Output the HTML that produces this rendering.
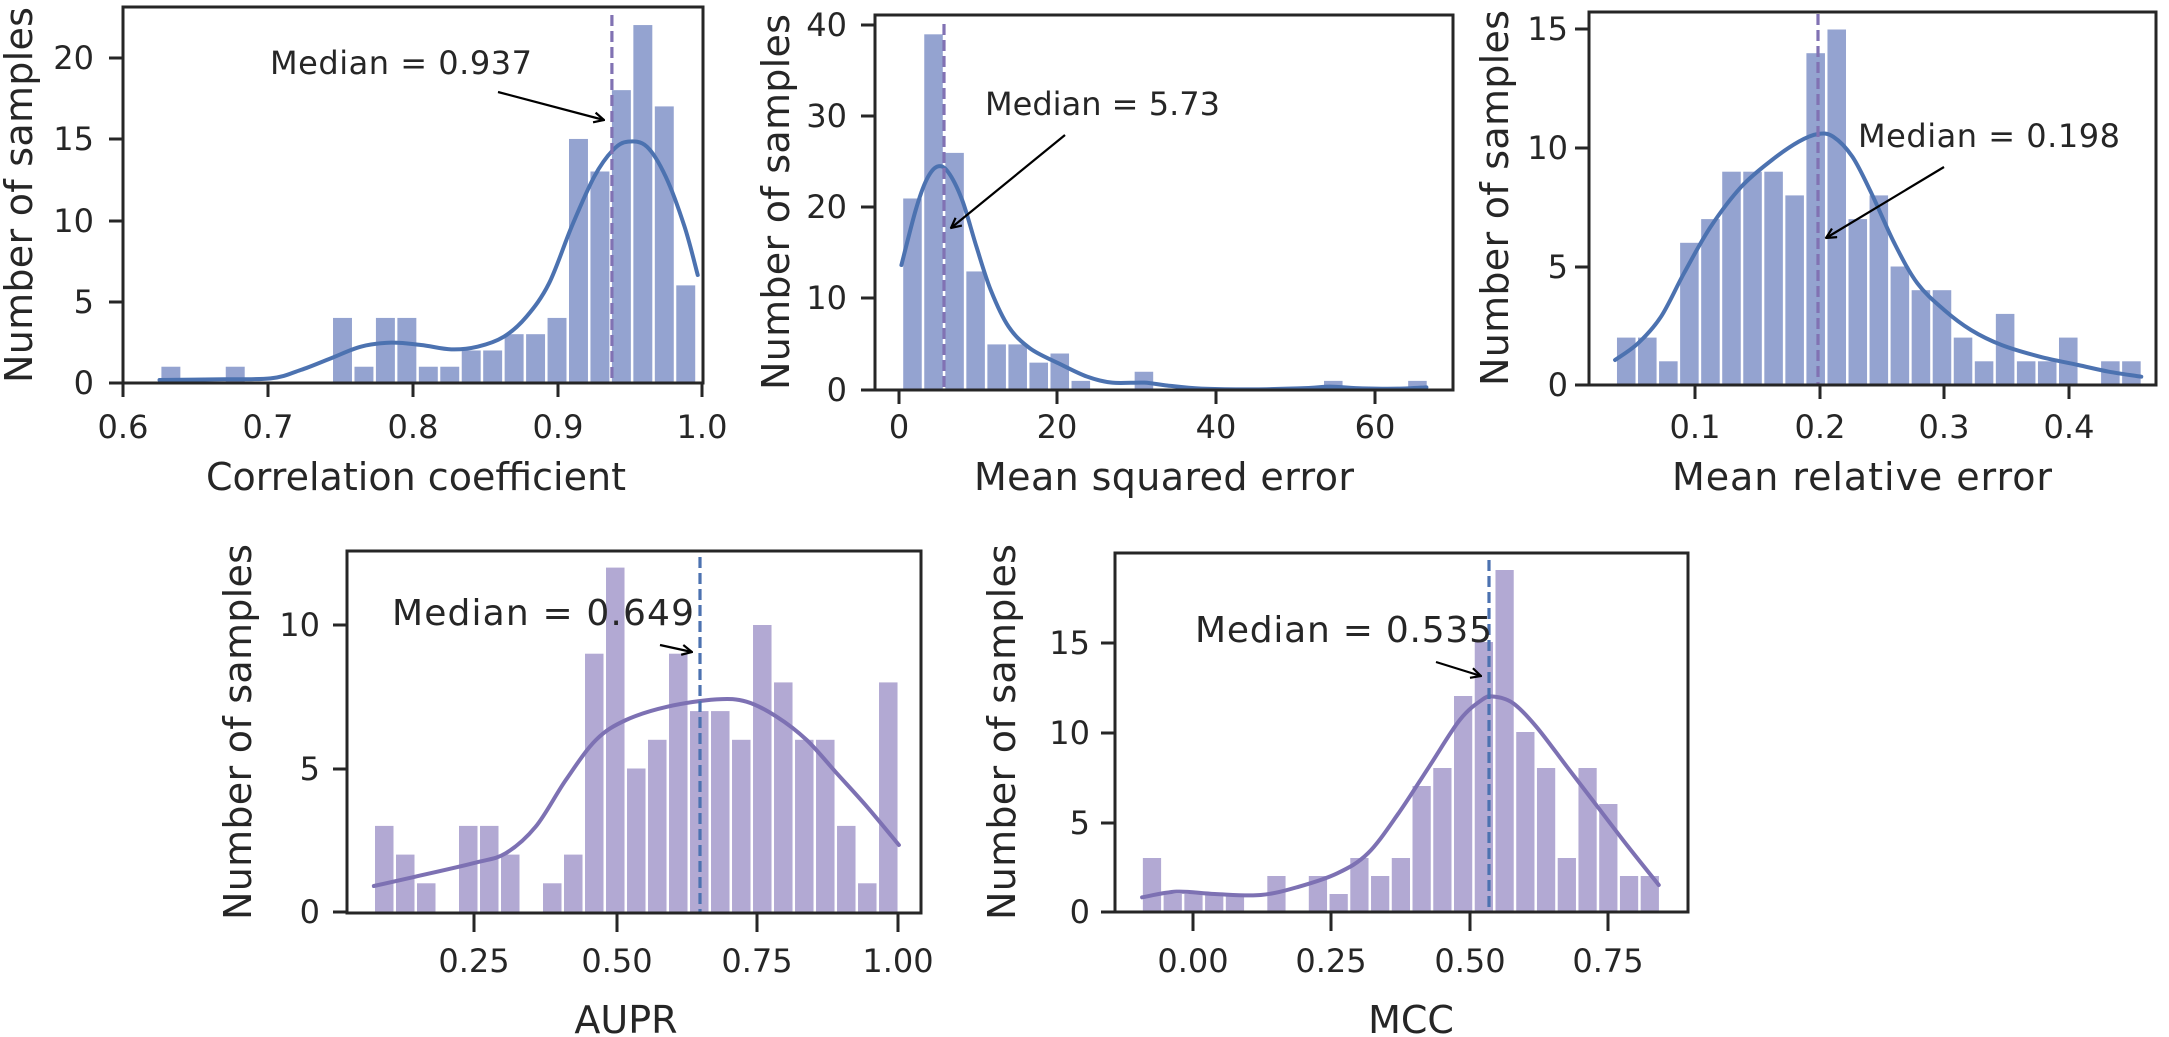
<!DOCTYPE html>
<html><head><meta charset="utf-8"><style>
html,body{margin:0;padding:0;background:#fff;}
svg{display:block;}
text{font-family:"DejaVu Sans","Liberation Sans",sans-serif;fill:#262626;}
.t{font-size:32px;}
.l{font-size:38px;}
.m{font-size:32px;}
</style></head><body>
<svg id="s" xmlns="http://www.w3.org/2000/svg" width="2169" height="1037" viewBox="0 0 2169 1037">
<defs><marker id="ah" viewBox="0 0 12 12" refX="11" refY="6" markerWidth="12" markerHeight="12" markerUnits="userSpaceOnUse" orient="auto"><path d="M1,1 L11,6 L1,11" fill="none" stroke="#000" stroke-width="2.2"/></marker></defs>
<g id="plots"></g>
<!-- Panel 1 text -->
<g class="t" text-anchor="end">
<text x="94" y="394">0</text><text x="94" y="313">5</text><text x="94" y="232">10</text><text x="94" y="150">15</text><text x="94" y="69">20</text>
</g>
<g class="t" text-anchor="middle">
<text x="123" y="438">0.6</text><text x="268" y="438">0.7</text><text x="413" y="438">0.8</text><text x="558" y="438">0.9</text><text x="702" y="438">1.0</text>
</g>
<text class="l" x="416" y="490" text-anchor="middle" textLength="420">Correlation coefficient</text>
<text class="l" transform="translate(32,195) rotate(-90)" text-anchor="middle" textLength="376">Number of samples</text>
<text class="m" x="270" y="74" textLength="262">Median = 0.937</text>
<!-- Panel 2 text -->
<g class="t" text-anchor="end">
<text x="847" y="401">0</text><text x="847" y="309">10</text><text x="847" y="218">20</text><text x="847" y="127">30</text><text x="847" y="36">40</text>
</g>
<g class="t" text-anchor="middle">
<text x="899" y="438">0</text><text x="1057" y="438">20</text><text x="1216" y="438">40</text><text x="1375" y="438">60</text>
</g>
<text class="l" x="1164" y="490" text-anchor="middle" textLength="380">Mean squared error</text>
<text class="l" transform="translate(789,202) rotate(-90)" text-anchor="middle" textLength="376">Number of samples</text>
<text class="m" x="985" y="115" textLength="235">Median = 5.73</text>
<!-- Panel 3 text -->
<g class="t" text-anchor="end">
<text x="1568" y="396">0</text><text x="1568" y="278">5</text><text x="1568" y="159">10</text><text x="1568" y="40">15</text>
</g>
<g class="t" text-anchor="middle">
<text x="1695" y="438">0.1</text><text x="1820" y="438">0.2</text><text x="1944" y="438">0.3</text><text x="2069" y="438">0.4</text>
</g>
<text class="l" x="1862" y="490" text-anchor="middle" textLength="380">Mean relative error</text>
<text class="l" transform="translate(1508,198) rotate(-90)" text-anchor="middle" textLength="376">Number of samples</text>
<text class="m" x="1858" y="147" textLength="262">Median = 0.198</text>
<!-- Panel 4 text -->
<g class="t" text-anchor="end">
<text x="320" y="923">0</text><text x="320" y="780">5</text><text x="320" y="636">10</text>
</g>
<g class="t" text-anchor="middle">
<text x="474" y="972">0.25</text><text x="617" y="972">0.50</text><text x="757" y="972">0.75</text><text x="898" y="972">1.00</text>
</g>
<text class="l" x="626" y="1033" text-anchor="middle">AUPR</text>
<text class="l" transform="translate(251,732) rotate(-90)" text-anchor="middle" textLength="376">Number of samples</text>
<text class="m" x="392" y="625" textLength="302" style="font-size:36px">Median = 0.649</text>
<!-- Panel 5 text -->
<g class="t" text-anchor="end">
<text x="1090" y="923">0</text><text x="1090" y="834">5</text><text x="1090" y="744">10</text><text x="1090" y="654">15</text>
</g>
<g class="t" text-anchor="middle">
<text x="1193" y="972">0.00</text><text x="1331" y="972">0.25</text><text x="1470" y="972">0.50</text><text x="1608" y="972">0.75</text>
</g>
<text class="l" x="1411" y="1033" text-anchor="middle">MCC</text>
<text class="l" transform="translate(1015,732) rotate(-90)" text-anchor="middle" textLength="376">Number of samples</text>
<text class="m" x="1195" y="642" textLength="297" style="font-size:36px">Median = 0.535</text>
</svg>
<script>
(function(){
var NS="http://www.w3.org/2000/svg",G=document.getElementById("plots");
function el(n,a){var e=document.createElementNS(NS,n);for(var k in a)e.setAttribute(k,a[k]);G.appendChild(e);return e;}
function smooth(p){var d="M"+p[0][0]+","+p[0][1];for(var i=0;i<p.length-1;i++){var p0=p[i-1]||p[i],p1=p[i],p2=p[i+1],p3=p[i+2]||p2;
d+=" C"+(p1[0]+(p2[0]-p0[0])/6)+","+(p1[1]+(p2[1]-p0[1])/6)+" "+(p2[0]-(p3[0]-p1[0])/6)+","+(p2[1]-(p3[1]-p1[1])/6)+" "+p2[0]+","+p2[1];}return d;}
function panel(o){
 for(var i=0;i<o.h.length;i++){if(!o.h[i])continue;var x=o.bx+i*o.bs;var top=o.y0-o.h[i]*o.u;
  el("rect",{x:x,y:top,width:o.bs-2.5,height:o.y0-top,fill:o.bc});}
 var pts=o.k.map(function(q){return [o.ox+q[0]/o.xs,o.oy+q[1]/3];});
 el("path",{d:smooth(pts),fill:"none",stroke:o.kc,"stroke-width":4,"stroke-linecap":"round"});
 el("line",{x1:o.md,x2:o.md,y1:o.mt,y2:o.y0,stroke:o.mc,"stroke-width":3.2,"stroke-dasharray":"11,5"});
 el("rect",{x:o.L,y:o.T,width:o.R-o.L,height:o.B-o.T,fill:"none",stroke:"#262626","stroke-width":3});
 o.yt.forEach(function(y){el("line",{x1:o.L-14,x2:o.L,y1:y,y2:y,stroke:"#262626","stroke-width":3});});
 o.xt.forEach(function(x){el("line",{x1:x,x2:x,y1:o.B,y2:o.B+(o.tl||14),stroke:"#262626","stroke-width":3});});
 el("line",{x1:o.a[0],y1:o.a[1],x2:o.a[2],y2:o.a[3],stroke:"#000","stroke-width":2.2,"marker-end":"url(#ah)"});
}
var BB="#94a3d0",KB="#4c72b0",BP="#b2a9d3",KP="#7d71b3",MP="#8172b3";
panel({h:[1,0,0,1,0,0,0,0,4,1,4,4,1,1,2,2,3,3,4,15,13,18,22,17,6],bx:120+110/2.657,bs:57/2.657,y0:383,u:16.27,bc:BB,
 k:[[105,1140],[250,1138],[400,1135],[480,1110],[560,1075],[640,1040],[720,1028],[800,1035],[880,1048],[950,1040],[1020,1010],[1080,950],[1140,850],[1200,680],[1260,530],[1310,450],[1350,425],[1400,440],[1450,530],[1500,680],[1535,825]],
 ox:120,oy:0,xs:2.657,kc:KB,md:120+1307/2.657,mt:15,mc:MP,L:123,R:703,T:7,B:383,
 yt:[383,302,221,139,58],xt:[123,268,413,558,702],a:[498,92,604,120]});
panel({h:[21,39,26,13,5,5,3,4,1,0,0,2,0,0,0,0,0,0,0,0,1,0,0,0,1],bx:880+65/2.8,bs:21.04,y0:390,u:9.12,bc:BB,
 k:[[60,495],[100,330],[130,240],[160,200],[190,215],[230,300],[270,440],[310,570],[360,680],[420,745],[500,790],[580,830],[650,848],[740,848],[800,856],[900,866],[1050,868],[1200,864],[1260,860],[1350,865],[1450,866],[1530,862]],
 ox:880,oy:100,xs:2.8,kc:KB,md:944,mt:24,mc:MP,L:875,R:1453,T:15,B:390,
 yt:[390,298,207,116,25],xt:[899,1057,1216,1375],a:[1065,135,951,228]});
panel({h:[2,2,1,6,7,9,9,9,8,14,15,7,8,5,4,4,2,1,3,1,1,2,0,1,1],bx:1550+175/2.613,bs:55/2.613,y0:385,u:23.7,bc:BB,
 k:[[170,1050],[230,1000],[290,920],[350,790],[420,650],[500,530],[580,450],[650,395],[700,372],[740,380],[790,440],[840,550],[900,700],[960,820],[1030,900],[1100,960],[1180,1005],[1280,1040],[1380,1065],[1460,1085],[1545,1100]],
 ox:1550,oy:10,xs:2.613,kc:KB,md:1818,mt:14,mc:MP,L:1589,R:2156,T:12,B:385,
 yt:[385,267,148,29],xt:[1695,1820,1944,2069],a:[1944,167,1826,238]});
panel({h:[3,2,1,0,3,3,2,0,1,2,9,12,5,6,9,7,7,6,10,8,6,6,3,1,8],bx:340+93/2.657,bs:55.8/2.657,y0:912,u:28.7,bc:BP,
 k:[[90,1038],[200,1010],[360,968],[440,940],[520,860],[600,720],[680,600],[760,540],[870,500],[1000,478],[1080,485],[1160,530],[1240,600],[1320,700],[1400,800],[1485,915]],
 ox:340,oy:540,xs:2.657,kc:KP,md:700,mt:557,mc:KB,L:347,R:921,T:551,B:913,
 yt:[912,769,625],xt:[474,617,757,898],a:[660,645,692,652],tl:19});
panel({h:[3,1,1,1,1,0,2,0,2,1,3,2,3,7,8,12,15,19,10,8,3,8,6,2,2],bx:1100+112/2.613,bs:54.2/2.613,y0:912,u:18,bc:BP,
 k:[[110,1072],[200,1055],[300,1062],[420,1065],[520,1040],[620,1000],[700,940],[780,820],[860,680],[940,540],[1000,478],[1030,470],[1080,490],[1140,560],[1220,680],[1300,800],[1380,920],[1460,1035]],
 ox:1100,oy:540,xs:2.613,kc:KP,md:1489,mt:560,mc:KB,L:1115,R:1688,T:553,B:912,
 yt:[912,823,733,643],xt:[1193,1331,1470,1608],a:[1436,662,1481,676],tl:19});
})();
</script>
</body></html>
